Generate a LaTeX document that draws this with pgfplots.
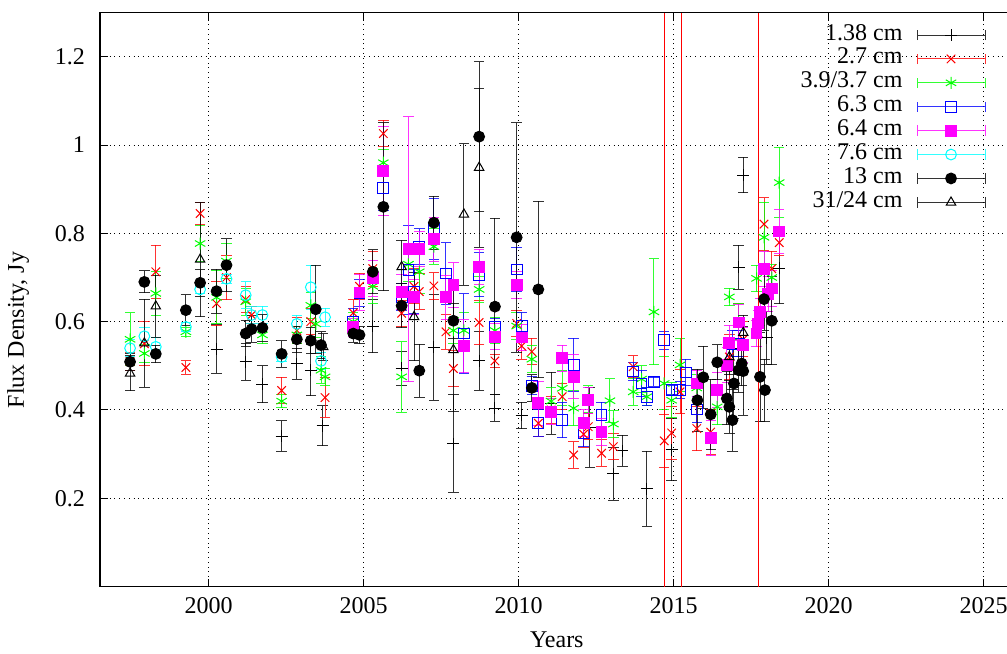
\documentclass[border=0pt]{standalone}
\usepackage{fontspec}
\setmainfont{Liberation Serif}
\usepackage{pgfplots}
\pgfplotsset{compat=1.18}
\definecolor{gpred}{rgb}{1,0,0}
\definecolor{gpgreen}{rgb}{0,1,0}
\definecolor{gpblue}{rgb}{0,0,1}
\definecolor{gpmag}{rgb}{1,0,1}
\definecolor{gpcyan}{rgb}{0,1,1}
\begin{document}
\begin{tikzpicture}[font=\fontsize{12}{14}\selectfont]
\pgfplotsset{
  ebar/.style={error bars/.cd, y dir=both, y explicit,
    error bar style={line width=0.5pt, opacity=0.8, solid},
    error mark options={rotate=90, mark size=2.6pt, line width=0.5pt, solid}},
  ser/.style={only marks, mark size=2.7pt, mark options={solid, line width=0.5pt}},
}
\begin{axis}[
  scale only axis, width=457.25pt, height=287pt,
  xmin=1996.5, xmax=2026, ymin=0, ymax=1.3,
  xtick={2000,2005,2010,2015,2020,2025},
  ytick={0.2,0.4,0.6,0.8,1,1.2},
  xticklabel style={/pgf/number format/1000 sep={}},
  /pgf/number format/assume math mode=true,
  xticklabel shift=2pt, yticklabel shift=4pt,
  tick align=inside, major tick length=4pt,
  tick style={black, line width=0.5pt},
  axis line style={line width=0.7pt},
  grid=major, grid style={dotted, black, line width=0.5pt},
  xlabel={Years}, ylabel={Flux Density, Jy},
  xlabel style={at={(axis description cs:0.4995,-0.0932)}, anchor=center},
  ylabel style={at={(axis description cs:-0.0896,0.447)}, anchor=center},
  legend plot pos=right, legend cell align=right,
  legend style={at={(axis description cs:0.9683,0.9817)}, anchor=north east,
    draw=none, fill=none, inner sep=0pt, outer sep=0pt, row sep=0pt, column sep=7pt,
    nodes={inner sep=0pt, text height=8.5pt, text depth=3.45pt}},
  legend image code/.code={
    \draw[#1, mark=none, line width=0.5pt, opacity=0.8, solid] (0pt,0pt) -- (34pt,0pt) (0pt,-2.6pt) -- (0pt,2.6pt) (34pt,-2.6pt) -- (34pt,2.6pt);
    \draw[#1] plot coordinates {(17pt,0pt)};
  },
]
% 1.38 cm
\addplot[black, mark=+, ser, mark size=3pt, ebar] table[x=x, y=y, y error=e] {
x y e
2000.26 0.538 0.055
2001.2 0.509 0.042
2001.74 0.458 0.042
2002.36 0.341 0.035
2002.85 0.505 0.035
2003.3 0.49 0.058
2003.68 0.364 0.045
2005.3 0.59 0.06
2006.23 0.494 0.038
2007.27 0.542 0.12
2007.9 0.324 0.11
2008.73 0.511 0.066
2009.24 0.404 0.03
2010.1 0.388 0.03
2011.05 0.415 0.07
2012.3 0.36 0.09
2013.06 0.255 0.06
2013.35 0.308 0.035
2014.14 0.222 0.085
2014.94 0.31 0.07
2017.1 0.723 0.05
2017.25 0.932 0.04
2018.0 0.563 0.06
2018.41 0.721 0.08
};
\addlegendentry{1.38 cm}
% 2.7 cm
\addplot[gpred, mark=x, ser, mark size=3pt, ebar] table[x=x, y=y, y error=e] {
x y e
1997.47 0.51 0.02
1997.93 0.55 0.05
1998.3 0.713 0.06
1999.27 0.496 0.015
1999.73 0.845 0.025
2000.26 0.641 0.05
2000.58 0.70 0.05
2001.2 0.65 0.03
2001.39 0.615 0.02
2002.36 0.444 0.03
2002.85 0.58 0.03
2003.3 0.6 0.03
2003.76 0.428 0.045
2004.67 0.62 0.03
2004.87 0.68 0.03
2005.3 0.72 0.04
2005.64 1.026 0.03
2006.23 0.619 0.03
2006.63 0.68 0.04
2006.8 0.668 0.04
2007.27 0.681 0.03
2007.66 0.577 0.04
2007.9 0.494 0.04
2008.73 0.598 0.05
2009.24 0.511 0.015
2009.94 0.596 0.03
2010.1 0.545 0.03
2010.43 0.532 0.03
2010.64 0.37 0.03
2011.05 0.40 0.03
2011.41 0.43 0.03
2011.78 0.298 0.03
2012.1 0.345 0.03
2012.25 0.362 0.03
2012.68 0.302 0.03
2013.06 0.317 0.03
2013.7 0.498 0.025
2014.7 0.33 0.06
2014.94 0.348 0.06
2015.21 0.441 0.05
2015.75 0.358 0.05
2016.2 0.35 0.05
2016.8 0.52 0.05
2017.1 0.6 0.04
2017.25 0.56 0.04
2017.92 0.821 0.06
2018.17 0.72 0.04
2018.41 0.779 0.03
};
\addlegendentry{2.7 cm}
% 3.9/3.7 cm
\addplot[gpgreen, mark=asterisk, ser, mark size=3pt, ebar] table[x=x, y=y, y error=e] {
x y e
1997.47 0.56 0.06
1997.93 0.528 0.02
1998.3 0.664 0.05
1999.27 0.577 0.01
1999.73 0.777 0.04
2000.26 0.655 0.06
2000.58 0.737 0.04
2001.2 0.645 0.03
2001.74 0.57 0.02
2002.36 0.42 0.015
2002.85 0.57 0.02
2003.3 0.637 0.03
2003.46 0.595 0.03
2003.63 0.49 0.03
2003.76 0.475 0.02
2004.67 0.6 0.02
2005.3 0.68 0.04
2005.64 0.96 0.03
2006.23 0.475 0.08
2006.45 0.73 0.04
2006.8 0.713 0.05
2007.27 0.77 0.04
2007.9 0.58 0.03
2008.24 0.58 0.04
2008.73 0.673 0.03
2009.24 0.58 0.03
2009.94 0.59 0.03
2010.43 0.515 0.03
2011.05 0.42 0.03
2011.41 0.449 0.04
2011.78 0.404 0.04
2012.25 0.425 0.03
2012.95 0.421 0.05
2013.06 0.368 0.03
2013.7 0.441 0.03
2013.97 0.47 0.03
2014.14 0.43 0.02
2014.37 0.622 0.12
2014.7 0.46 0.06
2014.94 0.422 0.04
2015.21 0.502 0.06
2015.75 0.45 0.03
2016.41 0.407 0.04
2016.8 0.656 0.02
2017.1 0.6 0.04
2017.68 0.698 0.03
2017.92 0.791 0.08
2018.17 0.7 0.03
2018.41 0.915 0.08
};
\addlegendentry{3.9/3.7 cm}
% 6.3 cm
\addplot[gpblue, mark=square, ser, ebar] table[x=x, y=y, y error=e] {
x y e
2004.67 0.6 0.03
2004.87 0.665 0.03
2005.64 0.902 0.05
2006.23 0.656 0.03
2006.45 0.717 0.1
2006.63 0.668 0.05
2006.8 0.77 0.04
2007.27 0.81 0.07
2007.66 0.709 0.07
2008.24 0.573 0.09
2008.73 0.706 0.05
2009.24 0.587 0.02
2009.94 0.718 0.05
2010.1 0.59 0.03
2010.43 0.455 0.02
2010.64 0.37 0.03
2011.41 0.377 0.04
2011.78 0.502 0.06
2012.1 0.347 0.03
2012.68 0.388 0.03
2013.7 0.487 0.02
2013.97 0.46 0.03
2014.14 0.43 0.02
2014.37 0.464 0.01
2014.7 0.558 0.02
2014.94 0.445 0.01
2015.21 0.445 0.02
2015.4 0.485 0.03
2015.75 0.401 0.03
2016.9 0.55 0.03
2017.1 0.55 0.03
};
\addlegendentry{6.3 cm}
% 6.4 cm
\addplot[gpmag, mark=square*, ser, ebar] table[x=x, y=y, y error=e] {
x y e
2004.67 0.587 0.02
2004.87 0.666 0.04
2005.3 0.698 0.04
2005.64 0.941 0.1
2006.23 0.667 0.04
2006.45 0.764 0.3
2006.63 0.656 0.04
2006.8 0.764 0.04
2007.27 0.787 0.05
2007.66 0.655 0.05
2007.9 0.683 0.05
2008.24 0.545 0.06
2008.73 0.724 0.04
2009.24 0.566 0.03
2009.94 0.683 0.03
2010.1 0.564 0.03
2010.64 0.415 0.05
2011.05 0.396 0.03
2011.41 0.517 0.03
2011.78 0.475 0.05
2012.1 0.37 0.03
2012.25 0.422 0.03
2012.68 0.35 0.03
2015.75 0.46 0.03
2016.2 0.336 0.04
2016.41 0.445 0.04
2016.72 0.502 0.04
2016.8 0.552 0.04
2017.1 0.598 0.04
2017.25 0.547 0.04
2017.68 0.573 0.03
2017.72 0.596 0.03
2017.79 0.622 0.03
2017.92 0.719 0.04
2018.05 0.663 0.04
2018.17 0.675 0.04
2018.41 0.804 0.05
};
\addlegendentry{6.4 cm}
% 7.6 cm
\addplot[gpcyan, mark=o, ser, ebar] table[x=x, y=y, y error=e] {
x y e
1997.47 0.54 0.02
1997.93 0.567 0.02
1998.3 0.543 0.02
1999.27 0.588 0.01
1999.73 0.673 0.01
2000.58 0.697 0.01
2001.2 0.66 0.03
2001.39 0.615 0.02
2001.74 0.615 0.02
2002.36 0.52 0.01
2002.85 0.595 0.02
2003.3 0.678 0.05
2003.63 0.511 0.02
2003.76 0.61 0.02
};
\addlegendentry{7.6 cm}
% 13 cm
\addplot[black, mark=*, ser, ebar] table[x=x, y=y, y error=e] {
x y e
1997.47 0.509 0.02
1997.93 0.69 0.025
1998.3 0.527 0.02
1999.27 0.626 0.035
1999.73 0.688 0.03
2000.26 0.669 0.05
2000.58 0.728 0.06
2001.2 0.573 0.03
2001.39 0.583 0.03
2001.74 0.586 0.03
2002.36 0.527 0.03
2002.85 0.56 0.03
2003.3 0.557 0.03
2003.46 0.628 0.1
2003.63 0.547 0.03
2004.67 0.573 0.02
2004.87 0.57 0.02
2005.3 0.713 0.05
2005.64 0.86 0.19
2006.23 0.636 0.05
2006.8 0.489 0.06
2007.27 0.824 0.06
2007.9 0.602 0.04
2008.73 1.019 0.17
2009.24 0.634 0.2
2009.94 0.791 0.26
2010.43 0.45 0.03
2010.64 0.673 0.2
2015.77 0.422 0.07
2015.96 0.474 0.07
2016.2 0.39 0.08
2016.41 0.508 0.04
2016.72 0.426 0.06
2016.8 0.407 0.06
2016.9 0.377 0.07
2016.95 0.46 0.08
2017.1 0.49 0.05
2017.2 0.505 0.05
2017.25 0.488 0.1
2017.79 0.475 0.1
2017.92 0.651 0.07
2017.95 0.445 0.07
2018.17 0.602 0.1
};
\addlegendentry{13 cm}
% 31/24 cm
\addplot[black, mark=triangle, ser, ebar] table[x=x, y=y, y error=e] {
x y e
1997.47 0.483 0.04
1997.93 0.551 0.1
1998.3 0.635 0.07
1999.73 0.741 0.13
2003.7 0.543 0.03
2006.23 0.724 0.06
2006.63 0.611 0.1
2007.9 0.536 0.14
2008.24 0.843 0.16
2008.73 0.949 0.18
2016.8 0.52 0.04
2017.25 0.575 0.04
};
\addlegendentry{31/24 cm}
\addplot[gpred, line width=0.6pt, forget plot] coordinates {(2014.7,0) (2014.7,1.3)};
\addplot[gpred, line width=0.6pt, forget plot] coordinates {(2015.25,0) (2015.25,1.3)};
\addplot[gpred, line width=0.6pt, forget plot] coordinates {(2017.75,0) (2017.75,1.3)};
\coordinate (bbsw) at (axis cs:1993.274,-0.1506);
\coordinate (bbne) at (axis cs:2025.758,1.3285);
\end{axis}
\pgfresetboundingbox
\useasboundingbox (bbsw) rectangle (bbne);
\end{tikzpicture}
\end{document}
